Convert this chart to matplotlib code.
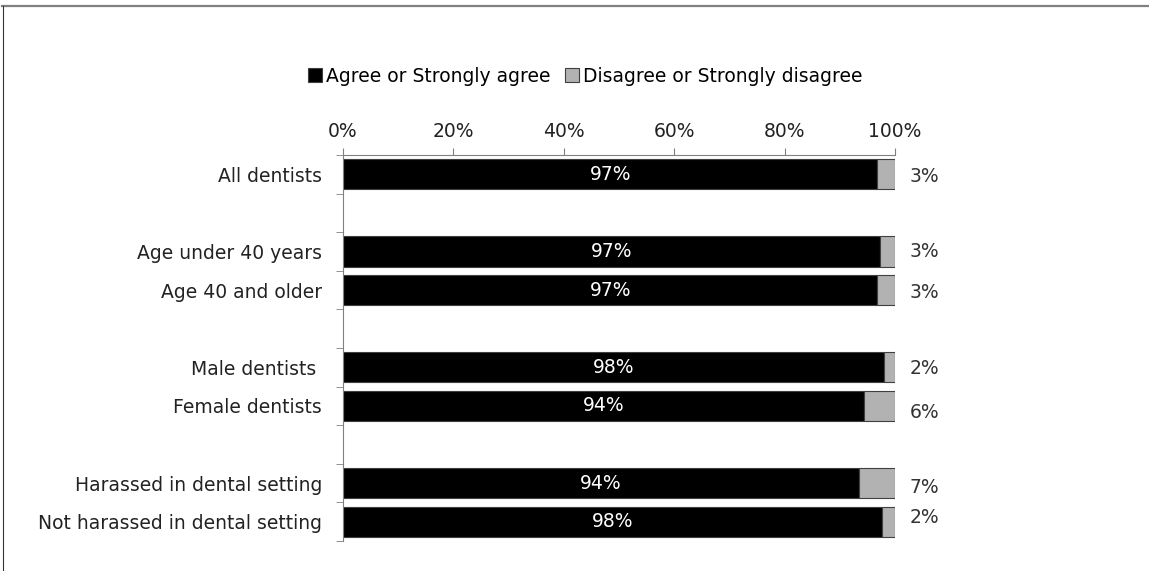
import matplotlib
matplotlib.use("Agg")
import matplotlib.pyplot as plt
from matplotlib.lines import Line2D
from matplotlib.patches import Patch

categories = ["All dentists", "", "Age under 40 years", "Age 40 and older", "",
              "Male dentists ", "Female dentists", "",
              "Harassed in dental setting", "Not harassed in dental setting"]
agree = [96.8, None, 97.3, 96.8, None, 98.0, 94.3, None, 93.5, 97.7]
disagree = [3.2, None, 2.7, 3.2, None, 2.0, 5.7, None, 6.5, 2.3]
agree_labels = ["97%", "", "97%", "97%", "", "98%", "94%", "", "94%", "98%"]
disagree_labels = ["3%", "", "3%", "3%", "", "2%", "6%", "", "7%", "2%"]
xticks = [0, 20, 40, 60, 80, 100]
xtick_labels = ["0%", "20%", "40%", "60%", "80%", "100%"]

# small vertical nudges of the outside labels (in slot units)
label_nudge = [0.05, 0, 0.0, 0.05, 0, 0.03, 0.16, 0, 0.12, -0.1]

plt.rcParams['font.family'] = ['DejaVu Sans']
fig = plt.figure(figsize=(11.49, 5.71), dpi=100)
ax = fig.add_axes([343/1149, 1-541/571, (895-343)/1149, (541-155)/571])

edge = "#404040"
fs = 13.5
for i, cat in enumerate(categories):
    if agree[i] is None:
        continue
    ax.barh(i, agree[i], height=0.78, color="black", edgecolor=edge, linewidth=0.8)
    ax.barh(i, disagree[i], left=agree[i], height=0.78, color="#b2b2b2",
            edgecolor=edge, linewidth=0.8)
    ax.text(agree[i] / 2, i, agree_labels[i], color="white", ha="center",
            va="center", fontsize=fs)
    ax.text(102.6, i + label_nudge[i], disagree_labels[i], color="#333333",
            ha="left", va="center", fontsize=fs)

ax.set_ylim(len(categories) - 0.5, -0.5)
ax.set_xlim(0, 100)
ax.set_yticks(range(len(categories)))
ax.set_yticklabels(categories, fontsize=fs, color="#222222")
ax.set_yticks([k - 0.5 for k in range(len(categories) + 1)], minor=True)
ax.tick_params(axis="y", which="major", length=0, pad=15)
ax.tick_params(axis="y", which="minor", length=5, color="#808080", direction="out")
ax.xaxis.tick_top()
ax.set_xticks(xticks)
ax.set_xticklabels(xtick_labels, fontsize=fs, color="#222222")
ax.tick_params(axis="x", length=5, color="#808080", pad=5)
for s in ["right", "bottom"]:
    ax.spines[s].set_visible(False)
for s in ["left", "top"]:
    ax.spines[s].set_color("#808080")
    ax.spines[s].set_linewidth(0.8)

handles = [Patch(facecolor="black", edgecolor=edge, linewidth=0.8),
           Patch(facecolor="#b2b2b2", edgecolor=edge, linewidth=0.8)]
fig.legend(handles, ["Agree or Strongly agree", "Disagree or Strongly disagree"],
           loc="center", bbox_to_anchor=(585/1149, 1-76/571), ncol=2, frameon=False,
           fontsize=fs, handlelength=0.75, handleheight=0.75, handletextpad=0.2,
           columnspacing=0.8)

# outer frame
fig.add_artist(Line2D([2/1149, 1], [1-5.5/571, 1-5.5/571], color="#808080", linewidth=1.6))
fig.add_artist(Line2D([3/1149, 3/1149], [0, 1-5.5/571], color="#333333", linewidth=0.8))

fig.savefig("out.png", dpi=100)
